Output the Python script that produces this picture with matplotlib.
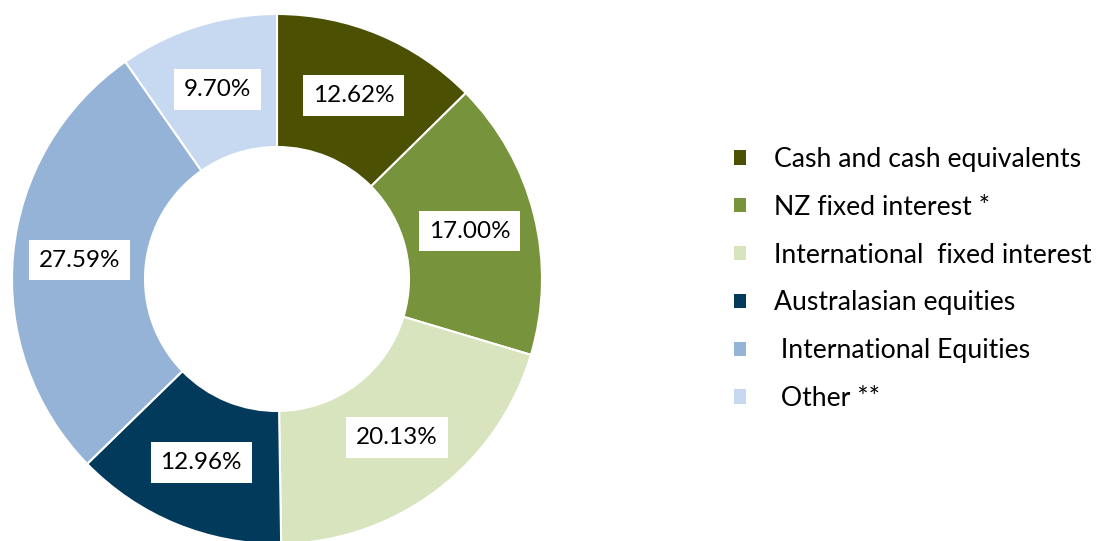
import matplotlib
matplotlib.use("Agg")
import matplotlib.pyplot as plt

categories = ["Cash and cash equivalents", "NZ fixed interest *", "International  fixed interest",
              "Australasian equities", " International Equities", " Other **"]
values = [12.62, 17.00, 20.13, 12.96, 27.59, 9.70]
colors = ["#4B5002", "#77933C", "#D7E4BD", "#023A5C", "#95B3D7", "#C6D9F1"]

fig = plt.figure(figsize=(11, 5.41), dpi=100)
ax = fig.add_axes([0, 0, 1, 1])
ax.set_xlim(0, 1100)
ax.set_ylim(0, 541)
ax.set_aspect("equal")
ax.axis("off")

wedges, texts, autotexts = ax.pie(
    values, colors=colors, startangle=90, counterclock=False,
    center=(277, 262), radius=265,
    wedgeprops=dict(width=133, edgecolor="white", linewidth=1.5),
    autopct=lambda p: f"{p:.2f}%", pctdistance=0.75,
    textprops=dict(fontsize=17.5, family="Lato", color="black"),
)
ax.set_xlim(0, 1100)
ax.set_ylim(0, 541)
for t, v in zip(autotexts, values):
    t.set_text(f"{v:.2f}%")
    t.set_bbox(dict(boxstyle="square,pad=0.4", fc="white", ec="none"))

leg = ax.legend(wedges, categories, loc="upper left",
                bbox_to_anchor=(734 / 1100, 1 - 147 / 541), bbox_transform=fig.transFigure,
                frameon=False, prop=dict(family="Lato", size=19.2),
                handlelength=0.45, handleheight=0.45, handletextpad=1.05,
                labelspacing=0.855, borderpad=0, borderaxespad=0)
for h in leg.legend_handles:
    h.set_edgecolor("none")

fig.savefig("out.png", dpi=100)
